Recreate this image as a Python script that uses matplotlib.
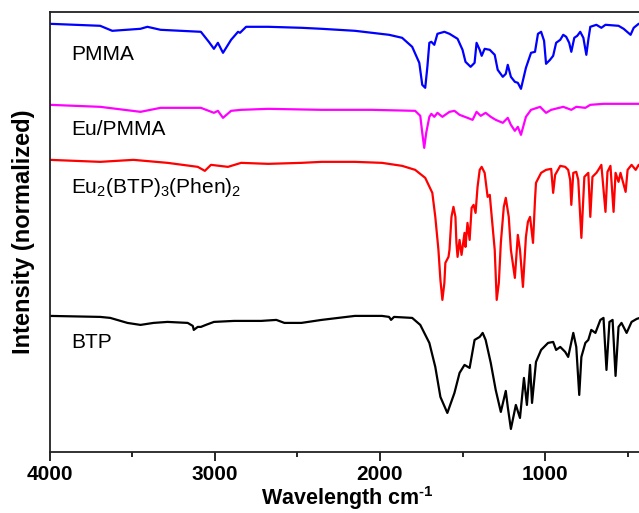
import matplotlib
matplotlib.use("Agg")
import matplotlib.pyplot as plt
from matplotlib.ticker import MultipleLocator

plt.rcParams['font.family'] = ['Liberation Sans', 'DejaVu Sans']
plt.rcParams['mathtext.fontset'] = 'custom'
plt.rcParams['mathtext.rm'] = 'Liberation Sans:bold'
plt.rcParams['mathtext.sf'] = 'Liberation Sans'

# FTIR spectra, stacked (normalized intensity incl. vertical offset)
pmma_wn = [4000, 3695, 3622, 3451, 3409, 3329, 3085, 3037, 3006, 2982, 2951, 2902, 2860, 2848,
           2811, 2677, 2476, 2354, 2152, 1945, 1866, 1805, 1762, 1744, 1726, 1713, 1701, 1689,
           1671, 1652, 1610, 1579, 1530, 1500, 1482, 1451, 1427, 1415, 1396, 1384, 1366, 1335,
           1305, 1287, 1256, 1238, 1226, 1207, 1183, 1165, 1146, 1116, 1085, 1061, 1043, 1024,
           1006, 994, 970, 951, 933, 908, 890, 872, 854, 841, 823, 805, 787, 768, 750, 738, 726,
           689, 659, 634, 555, 524, 482, 463, 433, 408]
pmma_int = [4.28, 4.26, 4.21, 4.23, 4.25, 4.22, 4.20, 4.10, 4.03, 4.09, 3.99, 4.12, 4.20, 4.19,
            4.25, 4.25, 4.24, 4.23, 4.21, 4.17, 4.14, 4.05, 3.89, 3.67, 3.64, 3.85, 4.09, 4.10,
            4.07, 4.18, 4.20, 4.18, 4.13, 4.02, 3.90, 3.85, 3.89, 4.09, 4.02, 3.96, 4.03, 4.02,
            3.97, 3.82, 3.75, 3.78, 3.87, 3.75, 3.70, 3.69, 3.63, 3.84, 3.99, 4.00, 4.18, 4.20,
            4.11, 3.88, 3.92, 3.96, 4.09, 4.12, 4.17, 4.15, 4.09, 4.00, 4.14, 4.16, 4.20, 4.14,
            3.97, 4.12, 4.25, 4.27, 4.24, 4.27, 4.26, 4.23, 4.17, 4.24, 4.28, 4.28]

eupmma_wn = [4000, 3695, 3451, 3329, 3085, 3006, 2982, 2951, 2902, 2841, 2677, 2354, 2049, 1787,
             1756, 1744, 1732, 1720, 1701, 1689, 1671, 1652, 1622, 1579, 1549, 1518, 1470, 1439,
             1415, 1390, 1360, 1329, 1299, 1256, 1226, 1207, 1183, 1165, 1146, 1116, 1085, 1030,
             994, 963, 890, 841, 811, 756, 726, 646, 408]
eupmma_int = [3.47, 3.45, 3.40, 3.44, 3.44, 3.39, 3.41, 3.34, 3.41, 3.42, 3.43, 3.42, 3.42, 3.41,
              3.36, 3.19, 3.04, 3.19, 3.35, 3.38, 3.35, 3.39, 3.35, 3.40, 3.41, 3.37, 3.34, 3.32,
              3.40, 3.36, 3.39, 3.35, 3.32, 3.29, 3.34, 3.27, 3.21, 3.25, 3.17, 3.35, 3.42, 3.45,
              3.39, 3.42, 3.45, 3.42, 3.45, 3.44, 3.47, 3.48, 3.48]

complex_wn = [4000, 3695, 3494, 3287, 3104, 3061, 3024, 2921, 2841, 2677, 2476, 2354, 2152, 1988,
              1866, 1787, 1726, 1683, 1665, 1646, 1634, 1622, 1610, 1604, 1585, 1579, 1567, 1555,
              1543, 1537, 1530, 1518, 1506, 1488, 1482, 1470, 1457, 1445, 1433, 1421, 1409, 1396,
              1384, 1366, 1348, 1335, 1323, 1305, 1293, 1280, 1268, 1250, 1238, 1220, 1207, 1183,
              1165, 1152, 1134, 1116, 1104, 1091, 1073, 1061, 1055, 1024, 994, 963, 951, 939, 908,
              878, 860, 848, 841, 829, 811, 799, 780, 762, 738, 726, 713, 689, 677, 659, 634, 622,
              604, 585, 573, 555, 543, 512, 500, 476, 451, 433, 408]
complex_int = [2.92, 2.90, 2.92, 2.89, 2.85, 2.81, 2.87, 2.85, 2.89, 2.88, 2.89, 2.90, 2.90, 2.89,
               2.86, 2.82, 2.74, 2.59, 2.35, 2.02, 1.72, 1.52, 1.69, 1.89, 1.95, 2.02, 2.35, 2.45,
               2.35, 2.09, 1.95, 2.12, 1.97, 2.19, 2.05, 2.29, 2.12, 2.44, 2.47, 2.39, 2.65, 2.82,
               2.85, 2.79, 2.55, 2.57, 2.35, 2.02, 1.52, 1.69, 2.09, 2.45, 2.54, 2.35, 2.02, 1.74,
               2.17, 2.02, 1.65, 2.15, 2.30, 2.35, 2.09, 2.52, 2.69, 2.79, 2.82, 2.83, 2.59, 2.77,
               2.86, 2.85, 2.82, 2.72, 2.47, 2.79, 2.80, 2.72, 2.14, 2.75, 2.79, 2.35, 2.75, 2.79,
               2.82, 2.87, 2.40, 2.80, 2.86, 2.40, 2.79, 2.70, 2.79, 2.60, 2.82, 2.87, 2.82, 2.87,
               2.85]

btp_wn = [4000, 3695, 3634, 3530, 3451, 3372, 3287, 3165, 3134, 3128, 3104, 3085, 3055, 3006,
          2884, 2720, 2628, 2579, 2476, 2354, 2152, 1988, 1945, 1933, 1915, 1805, 1756, 1701,
          1665, 1634, 1592, 1549, 1518, 1488, 1457, 1427, 1396, 1378, 1360, 1329, 1299, 1268,
          1238, 1226, 1207, 1177, 1152, 1128, 1110, 1091, 1079, 1055, 1024, 982, 951, 933, 908,
          878, 860, 829, 811, 793, 780, 756, 738, 720, 695, 665, 646, 628, 610, 591, 573, 555,
          537, 506, 476, 445, 408]
btp_int = [1.36, 1.35, 1.34, 1.29, 1.27, 1.29, 1.30, 1.29, 1.26, 1.22, 1.25, 1.25, 1.27, 1.30,
           1.31, 1.31, 1.32, 1.29, 1.29, 1.32, 1.36, 1.36, 1.35, 1.32, 1.35, 1.34, 1.27, 1.09,
           0.85, 0.55, 0.39, 0.59, 0.79, 0.87, 0.84, 1.12, 1.15, 1.19, 1.12, 0.89, 0.62, 0.40,
           0.61, 0.45, 0.23, 0.47, 0.34, 0.74, 0.47, 0.87, 0.49, 0.90, 1.02, 1.09, 1.10, 1.02,
           1.05, 1.00, 0.95, 1.19, 1.05, 0.57, 0.95, 1.09, 1.12, 1.22, 1.19, 1.32, 1.34, 0.82,
           1.30, 1.32, 0.76, 1.25, 1.29, 1.19, 1.30, 1.33, 1.35]

fig = plt.figure(figsize=(6.39, 5.13), dpi=100)
ax = fig.add_axes([0.078, 0.119, 0.93, 0.858])

ax.plot(pmma_wn, pmma_int, color='#0000FF', lw=1.6)
ax.plot(eupmma_wn, eupmma_int, color='#FF00FF', lw=1.6)
ax.plot(complex_wn, complex_int, color='#FF0000', lw=1.6)
ax.plot(btp_wn, btp_int, color='black', lw=1.6)

ax.text(3870, 3.97, 'PMMA', fontsize=15, va='center')
ax.text(3870, 3.22, 'Eu/PMMA', fontsize=15, va='center')
ax.text(3870, 2.64, r'Eu$_\mathsf{2}$(BTP)$_\mathsf{3}$(Phen)$_\mathsf{2}$', fontsize=15,
        va='center')
ax.text(3870, 1.09, 'BTP', fontsize=15, va='center')

ax.set_xlim(4000, 400)
ax.set_ylim(0, 4.4)
ax.xaxis.set_major_locator(MultipleLocator(1000))
ax.xaxis.set_minor_locator(MultipleLocator(500))
ax.set_yticks([])
ax.tick_params(axis='x', which='major', direction='out', length=6.5, width=1.2, pad=3,
               labelsize=15)
ax.tick_params(axis='x', which='minor', direction='out', length=3.6, width=1.2)
for lbl in ax.get_xticklabels():
    lbl.set_fontweight('bold')
for side in ['left', 'top', 'bottom']:
    ax.spines[side].set_linewidth(1.3)
    ax.spines[side].set_color('#222222')
ax.spines['right'].set_visible(False)

ax.set_xlabel(r'Wavelength cm$^{\text{-1}}$', fontsize=15.5, fontweight='bold', labelpad=0)
ax.set_ylabel('Intensity (normalized)', fontsize=17, fontweight='bold', labelpad=11)

fig.savefig('out.png', dpi=100)
